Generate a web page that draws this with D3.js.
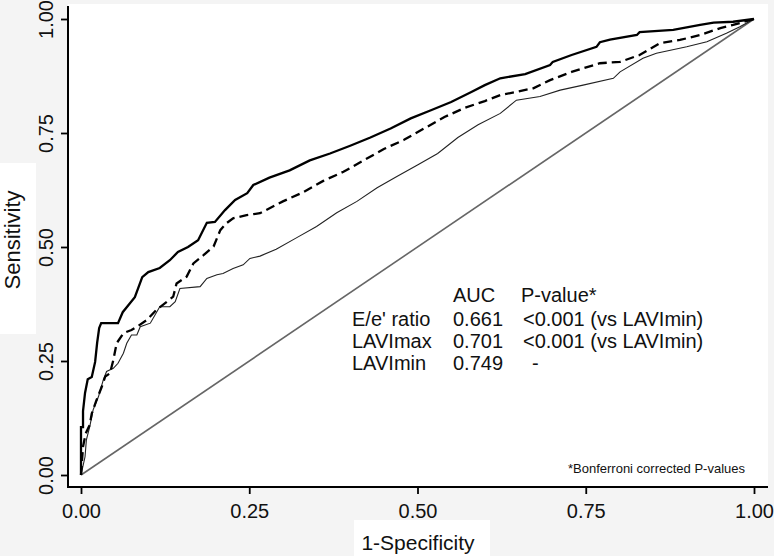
<!DOCTYPE html>
<html>
<head>
<meta charset="utf-8">
<script src="https://cdn.jsdelivr.net/npm/d3@7"></script>
<style>
  html, body { margin: 0; padding: 0; background: #f4f4f4; }
  svg { display: block; }
  text { font-family: "Liberation Sans", Arial, Helvetica, sans-serif; fill: #111; }
</style>
</head>
<body>
<svg id="chart" width="774" height="556"></svg>
<script>
// ---- data ----
const tickValues = [0, 0.25, 0.5, 0.75, 1];
const tickLabels = ["0.00", "0.25", "0.50", "0.75", "1.00"];

// LAVImin (solid)
const lavMinFpr = [0,0,0.003,0.003,0.006,0.010,0.016,0.021,0.024,0.027,0.030,0.055,0.062,0.073,0.080,0.091,0.100,0.117,0.132,0.144,0.159,0.174,0.187,0.199,0.214,0.229,0.247,0.256,0.28,0.31,0.34,0.37,0.40,0.43,0.46,0.49,0.52,0.55,0.58,0.60,0.623,0.66,0.697,0.701,0.729,0.766,0.771,0.786,0.826,0.83,0.88,0.92,0.94,0.969,1];
const lavMinTpr = [0,0.105,0.105,0.14,0.18,0.21,0.215,0.248,0.29,0.322,0.333,0.333,0.357,0.377,0.39,0.434,0.445,0.454,0.471,0.489,0.5,0.515,0.553,0.555,0.581,0.603,0.618,0.636,0.652,0.668,0.69,0.705,0.722,0.74,0.76,0.782,0.80,0.818,0.84,0.855,0.870,0.879,0.899,0.906,0.921,0.939,0.949,0.955,0.965,0.971,0.976,0.987,0.992,0.994,1];

// LAVImax (dashed)
const lavMaxFpr = [0,0.003,0.007,0.013,0.016,0.023,0.031,0.036,0.043,0.048,0.053,0.063,0.075,0.083,0.098,0.112,0.137,0.142,0.157,0.167,0.182,0.197,0.207,0.216,0.226,0.246,0.266,0.30,0.33,0.36,0.39,0.42,0.45,0.48,0.51,0.54,0.57,0.60,0.623,0.672,0.697,0.729,0.771,0.801,0.83,0.86,0.89,0.92,0.95,0.969,1];
const lavMaxTpr = [0,0.062,0.091,0.110,0.135,0.164,0.194,0.216,0.223,0.252,0.289,0.311,0.318,0.325,0.340,0.362,0.391,0.420,0.435,0.464,0.482,0.501,0.537,0.552,0.563,0.570,0.574,0.60,0.62,0.645,0.665,0.69,0.715,0.735,0.76,0.785,0.805,0.82,0.833,0.848,0.866,0.884,0.903,0.906,0.921,0.947,0.954,0.965,0.98,0.987,1];

// E/e' ratio (thin)
const eeFpr = [0,0.006,0.008,0.013,0.018,0.026,0.033,0.038,0.048,0.055,0.063,0.068,0.075,0.083,0.088,0.103,0.117,0.132,0.140,0.147,0.177,0.187,0.202,0.211,0.226,0.241,0.251,0.266,0.29,0.32,0.35,0.38,0.41,0.44,0.47,0.50,0.53,0.56,0.59,0.623,0.647,0.682,0.712,0.746,0.791,0.801,0.835,0.855,0.90,0.93,0.959,0.979,1];
const eeTpr = [0,0.040,0.077,0.106,0.143,0.172,0.208,0.227,0.234,0.245,0.267,0.289,0.307,0.307,0.325,0.333,0.369,0.369,0.380,0.409,0.413,0.431,0.439,0.442,0.453,0.461,0.475,0.480,0.495,0.52,0.545,0.575,0.60,0.63,0.655,0.68,0.705,0.74,0.768,0.793,0.822,0.830,0.844,0.855,0.870,0.884,0.914,0.925,0.939,0.95,0.969,0.983,1];

const legendNames = ["E/e' ratio", "LAVImax", "LAVImin"];
const legendAUC = ["0.661", "0.701", "0.749"];
const legendP = ["<0.001 (vs LAVImin)", "<0.001 (vs LAVImin)", "-"];

// ---- drawing ----
const svg = d3.select("#chart");
const x = d3.scaleLinear().domain([0, 1]).range([81, 754]);
const y = d3.scaleLinear().domain([0, 1]).range([475, 19]);

// plot region (white)
svg.append("rect").attr("x", 68).attr("y", 4).attr("width", 700).attr("height", 483).attr("fill", "#fff");
// white patches behind axis titles
svg.append("rect").attr("x", 0).attr("y", 163).attr("width", 36).attr("height", 171).attr("fill", "#fff");
svg.append("rect").attr("x", 354).attr("y", 520).attr("width", 136).attr("height", 36).attr("fill", "#fff");

// diagonal reference
svg.append("line")
  .attr("x1", x(0)).attr("y1", y(0)).attr("x2", x(1)).attr("y2", y(1))
  .attr("stroke", "#666").attr("stroke-width", 1.6);

const line = d3.line().x(d => x(d[0])).y(d => y(d[1]));
const series = [
  {fpr: eeFpr, tpr: eeTpr, width: 1.1, dash: null, color: "#222"},
  {fpr: lavMaxFpr, tpr: lavMaxTpr, width: 2.3, dash: "9,5", color: "#000"},
  {fpr: lavMinFpr, tpr: lavMinTpr, width: 2.3, dash: null, color: "#000"}
];
series.forEach(s => {
  svg.append("path")
    .datum(s.fpr.map((f, i) => [f, s.tpr[i]]))
    .attr("d", line)
    .attr("fill", "none")
    .attr("stroke", s.color)
    .attr("stroke-width", s.width)
    .attr("stroke-dasharray", s.dash)
    .attr("stroke-linejoin", "miter");
});

// axes
const fmt = (d) => tickLabels[tickValues.indexOf(d)];
const yAxis = svg.append("g").attr("transform", "translate(68,0)")
  .call(d3.axisLeft(y).tickValues(tickValues).tickFormat(fmt).tickSize(7).tickSizeOuter(0));
yAxis.select(".domain").remove();
yAxis.selectAll(".tick line").attr("stroke", "#000").attr("stroke-width", 1.8);
yAxis.selectAll(".tick text")
  .attr("x", null).attr("dy", null)
  .attr("transform", "translate(-15,0) rotate(-90)")
  .attr("text-anchor", "middle")
  .style("font-size", "20px");

const xAxis = svg.append("g").attr("transform", "translate(0,487)")
  .call(d3.axisBottom(x).tickValues(tickValues).tickFormat(fmt).tickSize(7).tickSizeOuter(0));
xAxis.select(".domain").remove();
xAxis.selectAll(".tick line").attr("stroke", "#000").attr("stroke-width", 1.8);
xAxis.selectAll(".tick text").attr("y", 31).attr("dy", null).style("font-size", "20px");

// axis lines
svg.append("line").attr("x1", 68).attr("x2", 68).attr("y1", 6).attr("y2", 488).attr("stroke", "#000").attr("stroke-width", 2);
svg.append("line").attr("x1", 67).attr("x2", 768).attr("y1", 487).attr("y2", 487).attr("stroke", "#000").attr("stroke-width", 2);

// axis titles
svg.append("text").attr("transform", "translate(20,240) rotate(-90)")
  .attr("text-anchor", "middle").style("font-size", "22px").text("Sensitivity");
svg.append("text").attr("x", 418).attr("y", 550)
  .attr("text-anchor", "middle").style("font-size", "21px").text("1-Specificity");

// legend table
const lg = svg.append("g").style("font-size", "20px");
lg.append("text").attr("x", 453).attr("y", 302).text("AUC");
lg.append("text").attr("x", 521).attr("y", 302).text("P-value*");
const rowY = [326, 348, 370];
legendNames.forEach((n, i) => {
  lg.append("text").attr("x", 352).attr("y", rowY[i]).text(n);
  lg.append("text").attr("x", 453).attr("y", rowY[i]).text(legendAUC[i]);
  lg.append("text").attr("x", legendP[i] === "-" ? 532 : 523).attr("y", rowY[i]).text(legendP[i]);
});

svg.append("text").attr("x", 745).attr("y", 473).attr("text-anchor", "end")
  .style("font-size", "13px").text("*Bonferroni corrected P-values");
</script>
</body>
</html>
